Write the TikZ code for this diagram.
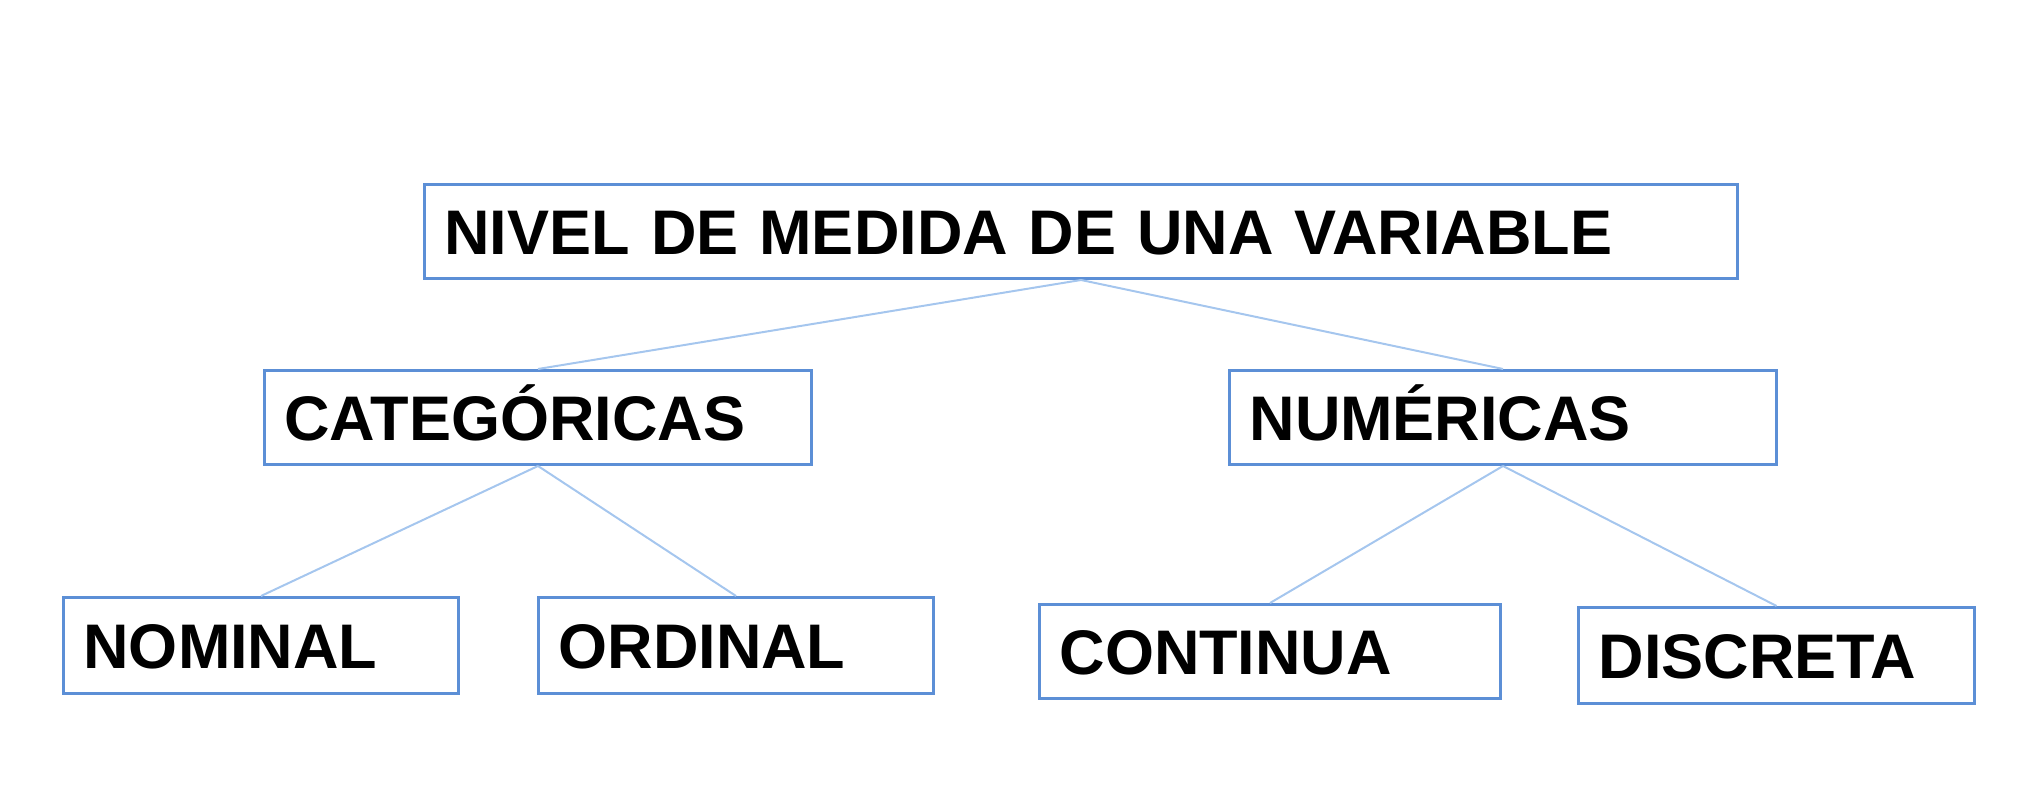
\documentclass[tikz,border=0pt]{standalone}
\usepackage{fontspec}
\setmainfont{Liberation Sans}
\definecolor{boxblue}{RGB}{92,143,214}
\definecolor{lineblue}{RGB}{165,198,238}
\begin{document}
\begin{tikzpicture}[x=0.5pt,y=-0.5pt,
  bx/.style={draw=boxblue,line width=1.5pt,rectangle,anchor=north west,
    inner xsep=10pt,inner ysep=0pt,align=left,
    font=\fontsize{31.5pt}{36pt}\selectfont\bfseries,
    text height=22.6pt,text depth=0pt},
  conn/.style={draw=lineblue,line width=1pt}]
\useasboundingbox (0,0) rectangle (2022,806);
\node[bx,minimum width=656.5pt,text width=636.5pt,minimum height=47pt] (top) at (423,183) {NIVEL DE MEDIDA DE UNA VARIABLE};
\node[bx,minimum width=273.5pt,text width=253.5pt,minimum height=47pt] (cat) at (263,369) {CATEGÓRICAS};
\node[bx,minimum width=273.5pt,text width=253.5pt,minimum height=47pt] (num) at (1228,369) {NUMÉRICAS};
\node[bx,minimum width=197.5pt,text width=177.5pt,minimum height=48pt] (nom) at (62,596) {NOMINAL};
\node[bx,minimum width=197.5pt,text width=177.5pt,minimum height=48pt] (ord) at (537,596) {ORDINAL};
\node[bx,minimum width=230.5pt,text width=210.5pt,minimum height=47pt] (con) at (1038,603) {CONTINUA};
\node[bx,minimum width=198pt,text width=178pt,minimum height=48pt] (dis) at (1577,606) {DISCRETA};
\draw[conn] (top.south) -- (cat.north);
\draw[conn] (top.south) -- (num.north);
\draw[conn] (cat.south) -- (nom.north);
\draw[conn] (cat.south) -- (ord.north);
\draw[conn] (num.south) -- (con.north);
\draw[conn] (num.south) -- (dis.north);
\end{tikzpicture}
\end{document}
